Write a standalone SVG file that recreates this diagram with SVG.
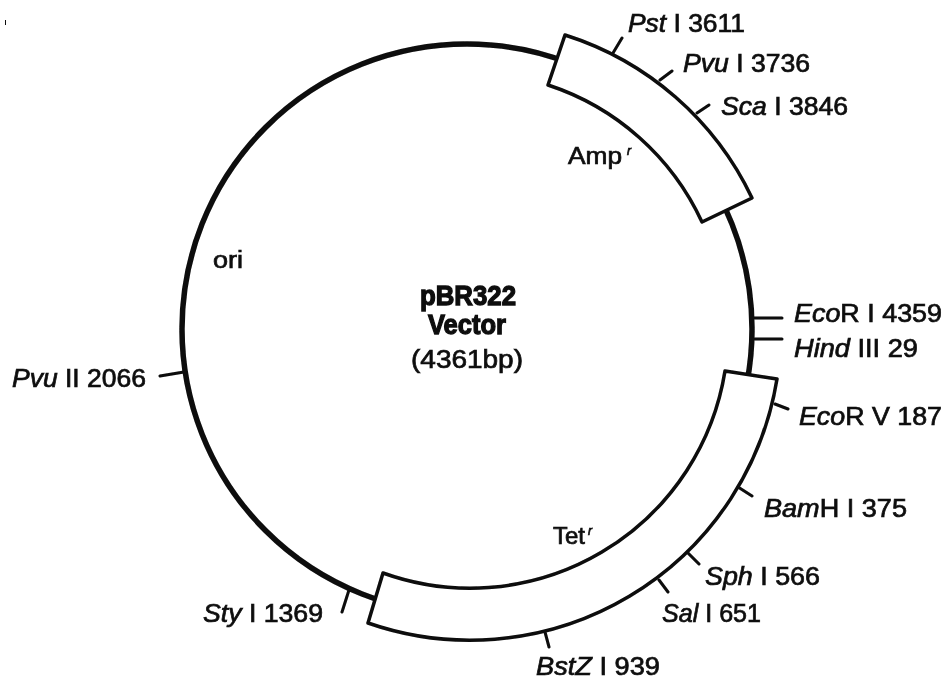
<svg xmlns="http://www.w3.org/2000/svg" width="947" height="680" viewBox="0 0 947 680">
<style>
text{font-family:"Liberation Sans",Arial,sans-serif;font-size:25px;fill:#111;stroke:#111;stroke-width:.7px}
.i{font-style:italic}
.b{font-weight:bold;font-size:28px;text-anchor:middle;stroke-width:1.3px}
.s{font-style:italic;font-size:12px}
.t{fill:none;stroke:#0a0a0a;stroke-width:3px;stroke-linecap:round}
.box{fill:#fff;stroke:#0a0a0a;stroke-width:3.5px;stroke-linejoin:round}
</style>
<defs><filter id="soft" x="0" y="0" width="100%" height="100%"><feGaussianBlur stdDeviation="0.7"/></filter></defs>
<rect width="947" height="680" fill="#fff"/>
<g filter="url(#soft)">
<rect x="5" y="20" width="1" height="5" fill="#111"/>
<g id="connectors">
<circle id="plasmid-ring" cx="467" cy="329" r="285" fill="none" stroke="#0a0a0a" stroke-width="5.5"/>
<path class="t" d="M613 53L622 38M660 80L672 71M697 113L709 105M754 318H782M754 339H782M775 404L788 409M738 487L752 496M687 552L699 564M659 580L668 592M545 632L549 647M349 590L342 612M160 376L184 372"/>
</g>
<g id="amp"><path class="box" d="M565 35L548 85A258 258 0 0 1 702 222L752 198A311 311 0 0 0 565 35Z"/><text x="568" y="164" textLength="54" lengthAdjust="spacingAndGlyphs" style="font-size:23px">Amp</text><text class="s" x="627" y="155">r</text></g>
<g id="tet"><path class="box" d="M725 371L777 379A311 311 0 0 1 368 623L383 573A258 258 0 0 0 725 371Z"/><text x="553" y="544" textLength="32" lengthAdjust="spacingAndGlyphs" style="font-size:23px">Tet</text><text class="s" x="588" y="535">r</text></g>
<g id="ori"><text x="213" y="268" textLength="30" lengthAdjust="spacingAndGlyphs" style="font-size:23px">ori</text></g>
<g id="center"><text class="b" x="468" y="305" textLength="96" lengthAdjust="spacingAndGlyphs">pBR322</text><text class="b" x="467" y="334" textLength="78" lengthAdjust="spacingAndGlyphs">Vector</text><text x="467" y="368" text-anchor="middle" textLength="112" lengthAdjust="spacingAndGlyphs">(4361bp)</text></g>
<g id="pst"><text x="628" y="32" textLength="117" lengthAdjust="spacingAndGlyphs"><tspan class="i">Pst</tspan> I 3611</text></g>
<g id="pvu1"><text x="683" y="72" textLength="127" lengthAdjust="spacingAndGlyphs"><tspan class="i">Pvu</tspan> I 3736</text></g>
<g id="sca"><text x="721" y="115" textLength="127" lengthAdjust="spacingAndGlyphs"><tspan class="i">Sca</tspan> I 3846</text></g>
<g id="ecori"><text x="794" y="322" textLength="148" lengthAdjust="spacingAndGlyphs"><tspan class="i">Eco</tspan>R I 4359</text></g>
<g id="hind"><text x="794" y="357" textLength="124" lengthAdjust="spacingAndGlyphs"><tspan class="i">Hind</tspan> III 29</text></g>
<g id="ecorv"><text x="799" y="425" textLength="143" lengthAdjust="spacingAndGlyphs"><tspan class="i">Eco</tspan>R V 187</text></g>
<g id="bam"><text x="764" y="517" textLength="143" lengthAdjust="spacingAndGlyphs"><tspan class="i">Bam</tspan>H I 375</text></g>
<g id="sph"><text x="705" y="585" textLength="115" lengthAdjust="spacingAndGlyphs"><tspan class="i">Sph</tspan> I 566</text></g>
<g id="sal"><text x="662" y="622" textLength="99" lengthAdjust="spacingAndGlyphs"><tspan class="i">Sal</tspan> I 651</text></g>
<g id="bstz"><text x="536" y="675" textLength="124" lengthAdjust="spacingAndGlyphs"><tspan class="i">BstZ</tspan> I 939</text></g>
<g id="sty"><text x="203" y="622" textLength="120" lengthAdjust="spacingAndGlyphs"><tspan class="i">Sty</tspan> I 1369</text></g>
<g id="pvu2"><text x="12" y="387" textLength="134" lengthAdjust="spacingAndGlyphs"><tspan class="i">Pvu</tspan> II 2066</text></g>
</g>
</svg>
